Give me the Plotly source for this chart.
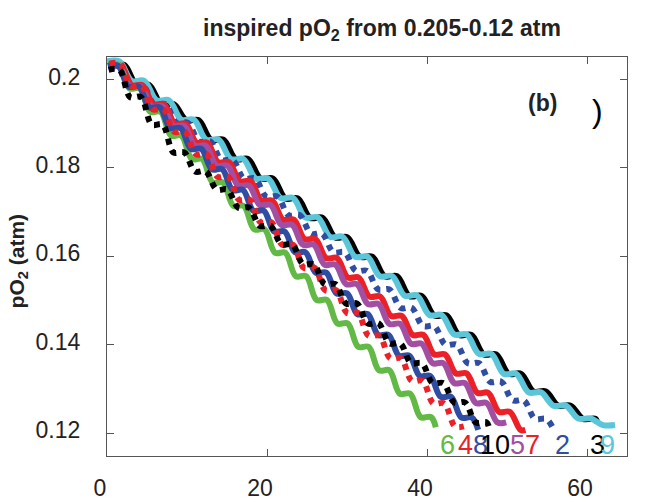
import plotly.graph_objects as go

# ---------------- data ----------------
# each series: corner points of the wavy step-like decline
s6_x = [0.2,1.5,2.8,4.1,5.4,6.7,8.0,9.3,10.6,11.9,13.2,14.5,15.8,17.1,18.4,19.7,21.0,22.3,23.6,24.9,26.2,27.5,28.8,30.1,31.4,32.7,34.0,35.3,36.6,37.9,39.2,40.5,41.1]
s6_y = [0.2033,0.2033,0.1980,0.1980,0.1927,0.1927,0.1873,0.1873,0.1820,0.1820,0.1767,0.1767,0.1714,0.1714,0.1661,0.1661,0.1608,0.1608,0.1555,0.1555,0.1501,0.1501,0.1448,0.1448,0.1395,0.1395,0.1342,0.1342,0.1289,0.1289,0.1236,0.1236,0.1213]

s4_x = [0.3,1.65,3.0,4.35,5.7,7.05,8.4,9.75,11.1,12.45,13.8,15.15,16.5,17.85,19.2,20.55,21.9,23.25,24.6,25.95,27.3,28.65,30.0,31.35,32.7,34.05,35.4,36.75,38.1,39.45,40.8,42.15,43.5,44.6]
s4_y = [0.2036,0.2036,0.1985,0.1985,0.1933,0.1933,0.1882,0.1882,0.1831,0.1831,0.1780,0.1780,0.1728,0.1728,0.1677,0.1677,0.1626,0.1626,0.1574,0.1574,0.1523,0.1523,0.1472,0.1472,0.1420,0.1420,0.1369,0.1369,0.1318,0.1318,0.1267,0.1267,0.1215,0.1215]

s8_x = [0.1,1.4,2.7,4.0,5.3,6.6,7.9,9.2,10.5,11.8,13.1,14.4,15.7,17.0,18.3,19.6,20.9,22.2,23.5,24.8,26.1,27.4,28.7,30.0,31.3,32.6,33.9,35.2,36.5,37.8,39.1,40.4,41.7,43.0,44.3,45.6,46.4]
s8_y = [0.2031,0.2031,0.1984,0.1984,0.1937,0.1937,0.1890,0.1890,0.1843,0.1843,0.1797,0.1797,0.1750,0.1750,0.1703,0.1703,0.1656,0.1656,0.1609,0.1609,0.1563,0.1563,0.1516,0.1516,0.1469,0.1469,0.1422,0.1422,0.1375,0.1375,0.1329,0.1329,0.1282,0.1282,0.1235,0.1235,0.1207]

s10_x = [0.2,1.55,2.9,4.25,5.6,6.95,8.3,9.65,11.0,12.35,13.7,15.05,16.4,17.75,19.1,20.45,21.8,23.15,24.5,25.85,27.2,28.55,29.9,31.25,32.6,33.95,35.3,36.65,38.0,39.35,40.7,42.05,43.4,44.75,46.1,47.45,47.8]
s10_y = [0.2022,0.2022,0.1960,0.1960,0.1898,0.1898,0.1835,0.1835,0.1792,0.1792,0.1751,0.1751,0.1710,0.1710,0.1669,0.1669,0.1627,0.1627,0.1582,0.1582,0.1537,0.1537,0.1493,0.1493,0.1448,0.1448,0.1403,0.1403,0.1358,0.1358,0.1313,0.1313,0.1269,0.1269,0.1224,0.1224,0.1208]

s5_x = [0.2,1.55,2.9,4.25,5.6,6.95,8.3,9.65,11.0,12.35,13.7,15.05,16.4,17.75,19.1,20.45,21.8,23.15,24.5,25.85,27.2,28.55,29.9,31.25,32.6,33.95,35.3,36.65,38.0,39.35,40.7,42.05,43.4,44.75,46.1,47.45,48.8,49.9]
s5_y = [0.2029,0.2029,0.1984,0.1984,0.1939,0.1939,0.1895,0.1895,0.1850,0.1850,0.1805,0.1805,0.1760,0.1760,0.1716,0.1716,0.1671,0.1671,0.1626,0.1626,0.1581,0.1581,0.1537,0.1537,0.1492,0.1492,0.1447,0.1447,0.1402,0.1402,0.1358,0.1358,0.1313,0.1313,0.1268,0.1268,0.1224,0.1224]

s7_x = [0.4,1.75,3.1,4.45,5.8,7.15,8.5,9.85,11.2,12.55,13.9,15.25,16.6,17.95,19.3,20.65,22.0,23.35,24.7,26.05,27.4,28.75,30.1,31.45,32.8,34.15,35.5,36.85,38.2,39.55,40.9,42.25,43.6,44.95,46.3,47.65,49.0,50.35,51.7,52.3]
s7_y = [0.2031,0.2031,0.1987,0.1987,0.1944,0.1944,0.1900,0.1900,0.1857,0.1857,0.1813,0.1813,0.1770,0.1770,0.1726,0.1726,0.1683,0.1683,0.1639,0.1639,0.1596,0.1596,0.1552,0.1552,0.1509,0.1509,0.1465,0.1465,0.1422,0.1422,0.1378,0.1378,0.1335,0.1335,0.1291,0.1291,0.1248,0.1248,0.1207,0.1207]

s2_x = [0.3,1.7,3.1,4.5,5.9,7.3,8.7,10.1,11.5,12.9,14.3,15.7,17.1,18.5,19.9,21.3,22.7,24.1,25.5,26.9,28.3,29.7,31.1,32.5,33.9,35.3,36.7,38.1,39.5,40.9,42.3,43.7,45.1,46.5,47.9,49.3,50.7,52.1,53.5,54.9,55.9]
s2_y = [0.2028,0.2028,0.1986,0.1986,0.1944,0.1944,0.1902,0.1902,0.1860,0.1860,0.1818,0.1818,0.1776,0.1776,0.1735,0.1735,0.1693,0.1693,0.1651,0.1651,0.1609,0.1609,0.1567,0.1567,0.1525,0.1525,0.1483,0.1483,0.1442,0.1442,0.1400,0.1400,0.1358,0.1358,0.1316,0.1316,0.1274,0.1274,0.1232,0.1232,0.1205]

s9_x = [0.0,1.55,3.1,4.65,6.2,7.75,9.3,10.85,12.4,13.95,15.5,17.05,18.6,20.15,21.7,23.25,24.8,26.35,27.9,29.45,31.0,32.55,34.1,35.65,37.2,38.75,40.3,41.85,43.4,44.95,46.5,48.05,49.6,51.15,52.7,54.25,55.8,57.35,58.9,60.45,62.0,63.5]
s9_y = [0.2041,0.2041,0.1997,0.1997,0.1953,0.1953,0.1909,0.1909,0.1864,0.1864,0.1820,0.1820,0.1776,0.1776,0.1732,0.1732,0.1688,0.1688,0.1644,0.1644,0.1599,0.1599,0.1555,0.1555,0.1511,0.1511,0.1467,0.1467,0.1423,0.1423,0.1379,0.1379,0.1334,0.1334,0.1292,0.1292,0.1262,0.1262,0.1233,0.1233,0.1218,0.1218]

s3_x = [0.6,2.15,3.7,5.25,6.8,8.35,9.9,11.45,13.0,14.55,16.1,17.65,19.2,20.75,22.3,23.85,25.4,26.95,28.5,30.05,31.6,33.15,34.7,36.25,37.8,39.35,40.9,42.45,44.0,45.55,47.1,48.65,50.2,51.75,53.3,54.85,56.4,57.95,59.5,61.05,61.3]
s3_y = [0.2033,0.2033,0.1988,0.1988,0.1944,0.1944,0.1908,0.1908,0.1864,0.1864,0.1820,0.1820,0.1776,0.1776,0.1731,0.1731,0.1687,0.1687,0.1643,0.1643,0.1599,0.1599,0.1555,0.1555,0.1510,0.1510,0.1466,0.1466,0.1422,0.1422,0.1378,0.1378,0.1334,0.1334,0.1294,0.1294,0.1262,0.1262,0.1232,0.1232,0.1222]

# curve labels and where they sit along the bottom
label_text = ["6", "4", "8", "10", "5", "7", "2", "3", "9"]
label_x = [42.5, 44.8, 46.7, 48.5, 51.3, 53.2, 56.9, 61.3, 62.5]
label_y = 0.1173

x_ticks = [0, 20, 40, 60]
y_ticks = [0.12, 0.14, 0.16, 0.18, 0.2]
y_tick_text = ["0.12", "0.14", "0.16", "0.18", "0.2"]

# ---------------- styles ----------------
GREEN = "#62B946"
RED = "#EC2027"
BLUE = "#2F4DA3"
BLACK = "#000000"
PURPLE = "#A24EA3"
CYAN = "#5BC6DA"

series = [
    (s3_x, s3_y, BLACK, "solid"),
    (s9_x, s9_y, CYAN, "solid"),
    (s2_x, s2_y, BLUE, "dot"),
    (s7_x, s7_y, RED, "solid"),
    (s5_x, s5_y, PURPLE, "solid"),
    (s6_x, s6_y, GREEN, "solid"),
    (s8_x, s8_y, BLUE, "solid"),
    (s4_x, s4_y, RED, "dot"),
    (s10_x, s10_y, BLACK, "dot"),
]
label_colors = [GREEN, RED, BLUE, BLACK, PURPLE, RED, BLUE, BLACK, CYAN]

FONT = "Liberation Sans, Arial, sans-serif"

fig = go.Figure()
for xs, ys, col, dash in series:
    fig.add_trace(go.Scatter(
        x=xs, y=ys, mode="lines",
        line=dict(color=col, width=6, dash=dash, shape="spline", smoothing=1.0),
        showlegend=False, hoverinfo="skip", cliponaxis=True,
    ))

annotations = []
for t, x, c in zip(label_text, label_x, label_colors):
    annotations.append(dict(x=x, y=label_y, xref="x", yref="y", text=t, showarrow=False,
                            font=dict(family=FONT, size=27, color=c),
                            xanchor="center", yanchor="middle"))
annotations.append(dict(x=54.4, y=0.1948, xref="x", yref="y", text="<b>(b)</b>", showarrow=False,
                        font=dict(family=FONT, size=23, color="#222"), xanchor="center", yanchor="middle"))
annotations.append(dict(x=61.3, y=0.1928, xref="x", yref="y", text=")", showarrow=False,
                        font=dict(family="Liberation Sans", size=32, color="#000"), xanchor="center", yanchor="middle"))
annotations.append(dict(x=0.529, y=1.0677, xref="paper", yref="paper",
                        text="<b>inspired pO<sub>2</sub> from 0.205-0.12 atm</b>", showarrow=False,
                        font=dict(family=FONT, size=23, color="#222"), xanchor="center", yanchor="middle"))
annotations.append(dict(x=-0.172, y=0.489, xref="paper", yref="paper",
                        text="<b>pO<sub>2</sub> (atm)</b>", showarrow=False, textangle=-90,
                        font=dict(family=FONT, size=21, color="#222"), xanchor="center", yanchor="middle"))

fig.update_layout(
    width=651, height=502,
    margin=dict(l=107, r=24, t=57, b=46),
    paper_bgcolor="white", plot_bgcolor="white",
    annotations=annotations,
    xaxis=dict(range=[0, 65], tickvals=x_ticks, ticks="inside", ticklen=7, tickcolor="#555",
               showline=True, linecolor="#555", linewidth=1.3, mirror="ticks", showgrid=False,
               zeroline=False, tickfont=dict(family=FONT, size=23, color="#222"),
               ticklabelstandoff=11, ticklabelshift=-7, automargin=False),
    yaxis=dict(range=[0.1148, 0.2051], tickvals=y_ticks, ticktext=y_tick_text, ticks="inside",
               ticklen=7, tickcolor="#555", showline=True, linecolor="#555", linewidth=1.3,
               mirror="ticks", showgrid=False, zeroline=False,
               tickfont=dict(family=FONT, size=23, color="#222"),
               ticklabelstandoff=21, ticklabelshift=-3, automargin=False),
)

fig.write_html("out.html")
